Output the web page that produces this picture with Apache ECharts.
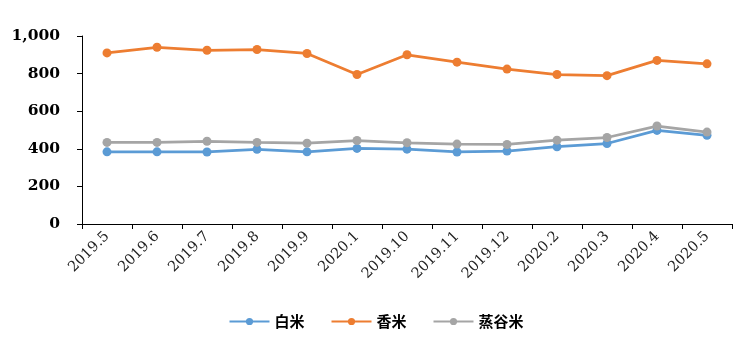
<!DOCTYPE html>
<html lang="zh" style="height: 100%">
<head>
  <meta charset="utf-8">
</head>
<body style="height: 100%; margin: 0; background: #fff">
<div id="container" style="width: 752px; height: 354px"></div>

<script type="text/javascript" src="https://cdn.jsdelivr.net/npm/echarts@6/dist/echarts.min.js"></script>
<script type="text/javascript">
  // 月份（原图顺序）
  var months = ['2019.5', '2019.6', '2019.7', '2019.8', '2019.9', '2020.1', '2019.10',
    '2019.11', '2019.12', '2020.2', '2020.3', '2020.4', '2020.5'];
  var baiMi = [384, 384, 383, 397, 384, 402, 398, 383, 388, 411, 428, 498, 472];
  var xiangMi = [910, 940, 924, 928, 907, 795, 900, 861, 824, 795, 789, 870, 852];
  var zhengGuMi = [434, 434, 440, 434, 430, 444, 432, 425, 423, 446, 460, 521, 489];
  var yTicks = [0, 200, 400, 600, 800, 1000];

  var myChart = echarts.init(document.getElementById('container'), null, { renderer: 'canvas' });

  function line(name, data, color) {
    return {
      name: name,
      type: 'line',
      data: data,
      symbol: 'circle',
      symbolSize: 9,
      itemStyle: { color: color },
      lineStyle: { color: color, width: 2.75 },
      animation: false
    };
  }

  var option = {
    color: ['#5B9BD5', '#ED7D31', '#A5A5A5'],
    grid: { left: 82, right: 20, top: 36, bottom: 130 },
    legend: {
      bottom: 20,
      left: 'center',
      itemWidth: 40,
      itemHeight: 9,
      itemGap: 26,
      textStyle: { fontFamily: 'Noto Sans CJK SC', fontWeight: 'bold', fontSize: 15, color: '#000' },
      data: ['白米', '香米', '蒸谷米']
    },
    xAxis: {
      type: 'category',
      data: months,
      boundaryGap: true,
      axisLine: { lineStyle: { color: '#000', width: 1 } },
      axisTick: { show: true, alignWithLabel: false, length: 5, lineStyle: { color: '#000' } },
      axisLabel: {
        rotate: 45,
        interval: 0,
        margin: 10,
        fontFamily: 'DejaVu Serif',
        fontSize: 14.5,
        color: '#222'
      }
    },
    yAxis: {
      type: 'value',
      min: yTicks[0],
      max: yTicks[yTicks.length - 1],
      interval: 200,
      axisLine: { show: true, lineStyle: { color: '#000', width: 1 } },
      axisTick: { show: true, length: 5, lineStyle: { color: '#000' } },
      splitLine: { show: false },
      axisLabel: {
        margin: 22,
        fontFamily: 'DejaVu Serif',
        fontWeight: 'bold',
        fontSize: 15.5,
        color: '#000',
        formatter: function (v) { return v.toLocaleString('en-US'); }
      }
    },
    series: [
      line('白米', baiMi, '#5B9BD5'),
      line('香米', xiangMi, '#ED7D31'),
      line('蒸谷米', zhengGuMi, '#A5A5A5')
    ]
  };

  myChart.setOption(option);
  window.addEventListener('resize', myChart.resize);
</script>
</body>
</html>
